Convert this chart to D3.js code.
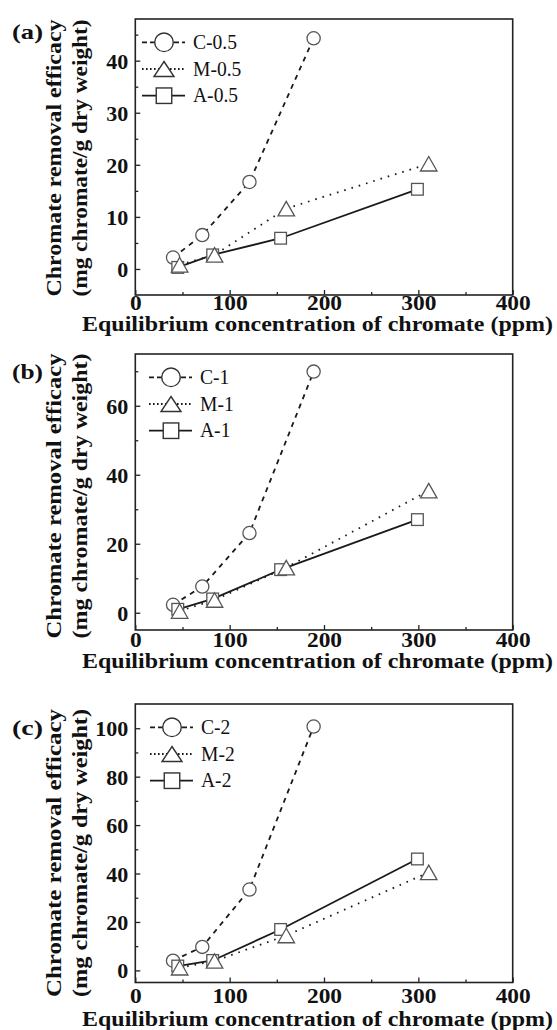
<!DOCTYPE html>
<meta charset="utf-8">
<style>
  body { margin: 0; background: #fff; }
  text { font-family: "Liberation Serif", "Times New Roman", Tinos, "DejaVu Serif", serif; fill: #111; }
  .tick-label { font-weight: bold; }
  .title { font-weight: bold; }
</style>
<body>
<svg width="557" height="1030"></svg>
<script src="https://d3js.org/d3.v7.min.js"></script>
<script>
// Dane
const panelNames = ['(a)', '(b)', '(c)'];
const seriesSuffix = ['0.5', '1', '2'];
const seriesKinds = ['C', 'M', 'A'];

const xC = [40, 71, 121, 189];
const xM = [47, 84, 160, 311];
const xA = [45, 82, 154, 299];

const yC_a = [2.2, 6.5, 16.7, 44.3];
const yM_a = [0.8, 2.7, 11.6, 20.2];
const yA_a = [0.3, 2.7, 5.9, 15.3];

const yC_b = [2.3, 7.6, 23.1, 69.9];
const yM_b = [0.5, 3.7, 13.1, 35.4];
const yA_b = [1.0, 4.0, 12.5, 27.0];

const yC_c = [4.0, 9.7, 33.4, 100.7];
const yM_c = [1.1, 3.9, 14.4, 40.5];
const yA_c = [1.8, 4.1, 16.9, 46.0];

const xTicks = [0, 100, 200, 300, 400];
const xMinorTicks = [50, 150, 250, 350];
const yTicks = [[0, 10, 20, 30, 40], [0, 20, 40, 60], [0, 20, 40, 60, 80, 100]];
const yMinorTicks = [[5, 15, 25, 35, 45], [10, 30, 50, 70], [10, 30, 50, 70, 90]];
const yDomains = [[-5, 48], [-5, 75], [-5, 110]];

const xTitle = 'Equilibrium concentration of chromate (ppm)';
const yTitle1 = 'Chromate removal efficacy';
const yTitle2 = '(mg chromate/g dry weight)';

const panelValues = [
  { C: yC_a, M: yM_a, A: yA_a },
  { C: yC_b, M: yM_b, A: yA_b },
  { C: yC_c, M: yM_c, A: yA_c },
];
const xValues = { C: xC, M: xM, A: xA };

// Układ paneli (pozycje w pikselach)
const layout = [
  { top: 19, bottom: 295, labelY: 39, ylabC: 158, ylabLen: 277, legendX: 142, xTickBase: 310, titleBase: 331 },
  { top: 354, bottom: 630, labelY: 379, ylabC: 496, ylabLen: 285, legendX: 149, xTickBase: 647, titleBase: 668 },
  { top: 704, bottom: 982.5, labelY: 735, ylabC: 853, ylabLen: 288, legendX: 150, xTickBase: 1003, titleBase: 1026 },
];
const left = 135.3, right = 512.7;

const style = {
  C: { dash: '5,5', legendDash: '5,3' },
  M: { dash: '1.6,6', legendDash: '1.6,2.4' },
  A: { dash: null, legendDash: null },
};

const svg = d3.select('svg');

// Czy jest czcionka z metryką Times? Jeśli nie, mniejszy rozmiar (DejaVu jest większa)
function measure(family) {
  const t = svg.append('text').attr('font-family', family).style('font-family', family)
    .attr('font-size', 40).text('Chromate removal 0123');
  const w = t.node().getComputedTextLength();
  t.remove();
  return w;
}
const hasTimes = ["'Liberation Serif'", "'Times New Roman'", 'Tinos']
  .some(f => measure(f + ', monospace') !== measure('monospace'));
const fs = hasTimes ? 20 : 18;

function marker(sel, kind, big) {
  if (kind === 'C') {
    return sel.append('circle').attr('r', big ? 9.3 : 6.6);
  } else if (kind === 'M') {
    const w = big ? 20 : 16.5, h = big ? 15 : 14.5;
    return sel.append('path').attr('d', `M0,${-h / 2}L${w / 2},${h / 2}L${-w / 2},${h / 2}Z`);
  } else {
    const s = big ? 15.5 : 11.7;
    return sel.append('rect').attr('x', -s / 2).attr('y', -s / 2).attr('width', s).attr('height', s);
  }
}

let legendScale = null;

panelNames.forEach((name, p) => {
  const L = layout[p];
  const x = d3.scaleLinear().domain([0, 400]).range([left, right]);
  const y = d3.scaleLinear().domain(yDomains[p]).range([L.bottom, L.top]);
  const g = svg.append('g');

  // ramka
  g.append('rect')
    .attr('x', left).attr('y', L.top)
    .attr('width', right - left).attr('height', L.bottom - L.top)
    .attr('fill', 'none').attr('stroke', '#222').attr('stroke-width', 1.6);

  // osie (ticki do środka)
  const yAxis = d3.axisLeft(y).tickValues(yTicks[p]).tickSize(-5).tickPadding(12).tickFormat(d3.format('d'));
  const gy = g.append('g').attr('transform', `translate(${left},0)`).call(yAxis);
  const yMinor = d3.axisLeft(y).tickValues(yMinorTicks[p]).tickSize(-3).tickFormat('');
  g.append('g').attr('transform', `translate(${left},0)`).call(yMinor);

  const xAxis = d3.axisBottom(x).tickValues(xTicks).tickSize(-5).tickPadding(0).tickFormat(d3.format('d'));
  const gx = g.append('g').attr('transform', `translate(0,${L.bottom})`).call(xAxis);
  const xMinor = d3.axisBottom(x).tickValues(xMinorTicks).tickSize(-3).tickFormat('');
  g.append('g').attr('transform', `translate(0,${L.bottom})`).call(xMinor);

  g.selectAll('.domain').remove();
  g.selectAll('.tick line').attr('stroke', '#222').attr('stroke-width', 1.3);
  gy.selectAll('text').attr('class', 'tick-label').attr('fill', '#111').attr('font-size', fs + 1)
    .attr('dy', '0.36em').attr('x', -7)
    .each(function () { this.setAttribute('textLength', this.textContent.length * 11); })
    .attr('lengthAdjust', 'spacingAndGlyphs');
  gx.selectAll('text').attr('class', 'tick-label').attr('fill', '#111').attr('font-size', fs + 1)
    .attr('dy', null).attr('y', L.xTickBase - L.bottom)
    .each(function () { this.setAttribute('textLength', this.textContent.length * 11.7); })
    .attr('lengthAdjust', 'spacingAndGlyphs');

  // linie serii
  const lineGen = d3.line().x(d => x(d[0])).y(d => y(d[1]));
  seriesKinds.forEach(kind => {
    const pts = xValues[kind].map((v, i) => [v, panelValues[p][kind][i]]);
    g.append('path').datum(pts)
      .attr('d', lineGen)
      .attr('fill', 'none')
      .attr('stroke', '#1a1a1a')
      .attr('stroke-width', 1.8)
      .attr('stroke-dasharray', style[kind].dash);
  });

  // znaczniki
  ['C', 'A', 'M'].forEach(kind => {
    xValues[kind].forEach((v, i) => {
      const m = g.append('g').attr('transform', `translate(${x(v)},${y(panelValues[p][kind][i])})`);
      marker(m, kind, false).attr('fill', '#fff').attr('stroke', '#555').attr('stroke-width', 1.3);
    });
  });

  // legenda
  const rows = [23.3, 50, 76.7];
  seriesKinds.forEach((kind, r) => {
    const cy = L.top + rows[r];
    const lx = L.legendX;
    g.append('line')
      .attr('x1', lx).attr('x2', lx + 43).attr('y1', cy).attr('y2', cy)
      .attr('stroke', '#1a1a1a').attr('stroke-width', 1.8)
      .attr('stroke-dasharray', style[kind].legendDash);
    const m = g.append('g').attr('transform', `translate(${lx + 22},${cy})`);
    marker(m, kind, true).attr('fill', '#fff').attr('stroke', '#333').attr('stroke-width', 1.4);
    const t = g.append('text')
      .attr('font-size', fs)
      .attr('x', lx + 51).attr('y', cy + 6.5)
      .text(`${kind}-${seriesSuffix[p]}`);
    if (legendScale === null) legendScale = 44 / t.node().getComputedTextLength();
    t.attr('textLength', t.node().getComputedTextLength() * legendScale).attr('lengthAdjust', 'spacingAndGlyphs');
  });

  // tytuły osi
  g.append('text').attr('class', 'title').attr('font-size', fs)
    .attr('x', 82).attr('y', L.titleBase)
    .attr('textLength', 471).attr('lengthAdjust', 'spacingAndGlyphs')
    .text(xTitle);

  const ylab = g.append('g').attr('transform', `translate(0,${L.ylabC}) rotate(-90)`);
  ylab.append('text').attr('class', 'title').attr('font-size', fs + 1)
    .attr('x', -L.ylabLen / 2).attr('y', 61)
    .attr('textLength', L.ylabLen).attr('lengthAdjust', 'spacingAndGlyphs')
    .text(yTitle1);
  ylab.append('text').attr('class', 'title').attr('font-size', fs + 1)
    .attr('x', -L.ylabLen / 2).attr('y', 87)
    .attr('textLength', L.ylabLen).attr('lengthAdjust', 'spacingAndGlyphs')
    .text(yTitle2);

  // etykieta panelu
  g.append('text').attr('class', 'title').attr('font-size', fs + 2)
    .attr('x', 12).attr('y', L.labelY)
    .attr('textLength', 31).attr('lengthAdjust', 'spacingAndGlyphs')
    .text(name);
});
</script>
</body>
